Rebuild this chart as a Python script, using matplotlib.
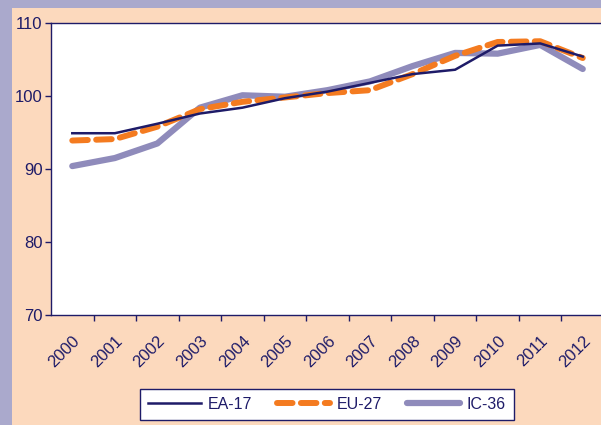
import matplotlib
matplotlib.use("Agg")
import matplotlib.pyplot as plt
from matplotlib.patches import Rectangle

# index values
years = ["2000", "2001", "2002", "2003", "2004", "2005", "2006",
         "2007", "2008", "2009", "2010", "2011", "2012"]
ea17 = [94.9, 94.9, 96.2, 97.6, 98.4, 99.7, 100.6, 101.8, 103.0, 103.6, 106.9, 107.2, 105.4]
eu27 = [93.9, 94.1, 95.8, 98.2, 99.2, 99.8, 100.4, 100.8, 103.0, 105.5, 107.4, 107.5, 105.2]
ic36 = [90.4, 91.5, 93.5, 98.4, 100.1, 99.9, 100.8, 102.0, 104.1, 105.9, 105.8, 107.0, 103.7]

navy = "#1e1b68"
orange = "#f47b20"
lilac = "#8f8bbb"
peach = "#fcd9bd"
strip = "#aaa9cc"

plt.rcParams['font.family'] = ['Liberation Sans', 'DejaVu Sans']

fig = plt.figure(figsize=(6.01, 4.25), dpi=100)
fig.patch.set_facecolor(peach)
# lavender frame strips (top and left)
fig.patches.append(Rectangle((0, 0.981), 1, 0.02, transform=fig.transFigure,
                             facecolor=strip, edgecolor='none', zorder=0))
fig.patches.append(Rectangle((0, 0), 0.02, 1, transform=fig.transFigure,
                             facecolor=strip, edgecolor='none', zorder=0))

ax = fig.add_axes([0.0849, 0.2588, 0.9201, 0.6871])
ax.set_facecolor('white')

x = list(range(len(years)))
ax.plot(x, ea17, color=navy, lw=1.8, label='EA-17', zorder=3)
ax.plot(x, eu27, color=orange, lw=4.3, dashes=(2.6, 1.4), dash_capstyle='round',
        label='EU-27', zorder=2)
ax.plot(x, ic36, color=lilac, lw=4.5, solid_capstyle='round', label='IC-36', zorder=1)

ax.set_xlim(-0.5, len(years) - 0.5)
ax.set_ylim(70, 110)
ax.set_yticks([70, 80, 90, 100, 110])

ax.set_xticks(x)
ax.set_xticklabels(years, rotation=45, ha='right', rotation_mode='anchor')
ax.set_xticks([i + 0.5 for i in range(len(years) - 1)], minor=True)
ax.tick_params(axis='x', which='major', length=0, pad=13, labelsize=12, labelcolor=navy)
ax.tick_params(axis='x', which='minor', length=4, width=1, color=navy, direction='out')
ax.tick_params(axis='y', length=4, width=1, color=navy, labelsize=12, labelcolor=navy, pad=2)

for s in ax.spines.values():
    s.set_color(navy)
    s.set_linewidth(1)

leg = fig.legend(loc='center', bbox_to_anchor=(0.544, 0.049), ncol=3, frameon=True,
                 fancybox=False, edgecolor=navy, facecolor='white', framealpha=1,
                 fontsize=11.5, handlelength=3.3, handletextpad=0.4, columnspacing=1.6,
                 borderpad=0.5)
leg.get_frame().set_linewidth(1)
for t in leg.get_texts():
    t.set_color(navy)

fig.savefig("out.png", dpi=100, facecolor=fig.get_facecolor())
